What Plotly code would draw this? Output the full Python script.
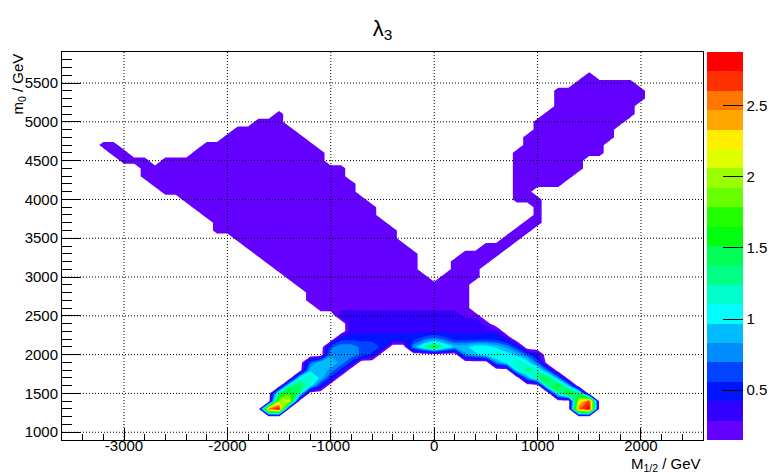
import plotly.graph_objects as go

# ---- data -------------------------------------------------------------
# histogram bin centres (GeV)
x_bins = list(range(-3500, 2501, 100))
y_bins = list(range(1000, 5801, 100))

# contour band for each occupied bin, per row (m0 value):
# (first M1/2 bin of the run, band codes); '1'..'9','A'..'K' = band 1..20
band_codes = "123456789ABCDEFGHIJK"
band_segments = {
    5600: [(1500, "1")],
    5500: [(1400, "111111")],
    5400: [(1200, "111111111")],
    5300: [(1200, "111111111")],
    5200: [(1200, "11111111")],
    5100: [(-1500, "1"), (1100, "111111111")],
    5000: [(-1700, "111"), (1000, "111111111")],
    4900: [(-1900, "111111"), (1000, "11111111")],
    4800: [(-2000, "11111111"), (900, "111111111")],
    4700: [(-3200, "11"), (-2200, "11111111111"), (900, "11111111")],
    4600: [(-3100, "11"), (-2300, "1111111111111"), (800, "111111111")],
    4500: [(-3000, "111"), (-2600, "1111111111111111"), (800, "1111111")],
    4400: [(-2800, "11111111111111111111"), (800, "1111111")],
    4300: [(-2800, "11111111111111111111"), (800, "111111")],
    4200: [(-2700, "11111111111111111111"), (800, "11111")],
    4100: [(-2600, "1111111111111111111"), (800, "11")],
    4000: [(-2400, "111111111111111111"), (800, "111")],
    3900: [(-2300, "111111111111111111"), (1000, "1")],
    3800: [(-2200, "11111111111111111"), (1000, "1")],
    3700: [(-2100, "11111111111111111"), (900, "11")],
    3600: [(-2100, "111111111111111111"), (800, "11")],
    3500: [(-1900, "1111111111111111"), (700, "11")],
    3400: [(-1800, "1111111111111111"), (500, "111")],
    3300: [(-1700, "1111111111111111"), (300, "1111")],
    3200: [(-1600, "111111111111111"), (200, "1111")],
    3100: [(-1500, "11111111111111"), (200, "111")],
    3000: [(-1400, "11111111111111"), (100, "1111")],
    2900: [(-1300, "11111111111111111")],
    2800: [(-1200, "1111111111111111")],
    2700: [(-1200, "1111111111111111")],
    2600: [(-1100, "111111111111111")],
    2500: [(-900, "22222222222211")],
    2400: [(-800, "22222222222221")],
    2300: [(-800, "222222222222222")],
    2200: [(-900, "33333333454333332")],
    2100: [(-1000, "455443"), (-200, "58B86677653")],
    2000: [(-1000, "55543"), (300, "56787642")],
    1900: [(-1200, "46653"), (600, "57874")],
    1800: [(-1200, "6653"), (800, "7984")],
    1700: [(-1300, "7863"), (900, "59A5")],
    1600: [(-1400, "8A73"), (1100, "9B6")],
    1500: [(-1500, "9C8"), (1200, "8C9")],
    1400: [(-1500, "EF"), (1400, "FJ")],
    1300: [(-1600, "IK"), (1400, "IK")],
}

z_min = 0.148
z_max = 2.88
n_bands = 20
band_colors = [
    "rgb(99,0,255)", "rgb(51,0,255)", "rgb(0,20,255)", "rgb(0,68,255)",
    "rgb(0,139,255)", "rgb(0,187,255)", "rgb(0,255,252)", "rgb(0,255,204)",
    "rgb(0,255,133)", "rgb(0,255,85)", "rgb(0,255,14)", "rgb(34,255,0)",
    "rgb(105,255,0)", "rgb(153,255,0)", "rgb(224,255,0)", "rgb(255,238,0)",
    "rgb(255,167,0)", "rgb(255,119,0)", "rgb(255,48,0)", "rgb(255,0,0)",
]

x_ticks = [-3000, -2000, -1000, 0, 1000, 2000]
x_tick_text = ["-3000", "-2000", "-1000", "0", "1000", "2000"]
y_ticks = [1000, 1500, 2000, 2500, 3000, 3500, 4000, 4500, 5000, 5500]
y_tick_text = [str(v) for v in y_ticks]
cb_ticks = [0.5, 1, 1.5, 2, 2.5]
cb_tick_text = ["0.5", "1", "1.5", "2", "2.5"]

# ---- build grid -------------------------------------------------------
step = (z_max - z_min) / n_bands
z = [[0.0 for _ in x_bins] for _ in y_bins]
for yv, segs in band_segments.items():
    r = y_bins.index(yv)
    for x0, codes in segs:
        c0 = x_bins.index(x0)
        for k, ch in enumerate(codes):
            band = band_codes.index(ch) + 1
            z[r][c0 + k] = z_min + (band - 0.3) * step

# stepped colour scale: white below the first level, one flat colour per band
colorscale = [[0.0, "white"], [0.001, band_colors[0]]]
for k, col in enumerate(band_colors):
    lo = k / n_bands
    hi = (k + 1) / n_bands
    if k > 0:
        colorscale.append([lo, col])
    colorscale.append([hi, col])

FONT = "Liberation Sans, Arial, Helvetica, sans-serif"
pw = 769 - 62 - 66
GRID_DASH = "1px,2px"

fig = go.Figure(go.Contour(
    x=x_bins, y=y_bins, z=z,
    autocontour=False,
    contours=dict(start=z_min, end=z_max, size=step, coloring="fill", showlines=False),
    line=dict(width=0, smoothing=0),
    colorscale=colorscale, zauto=False, zmin=z_min, zmax=z_max,
    hoverinfo="skip",
    colorbar=dict(
        x=(707 - 62) / pw, xanchor="left", xpad=0,
        y=0.5, yanchor="middle", ypad=0, len=1, lenmode="fraction",
        thickness=36, thicknessmode="pixels", outlinewidth=0,
        tickmode="array", tickvals=cb_ticks, ticktext=cb_tick_text,
        ticks="inside", ticklen=20, tickwidth=1, tickcolor="black",
        tickfont=dict(family=FONT, size=15, color="black"),
    ),
))

shapes = []
for xv in x_ticks:
    shapes.append(dict(type="line", xref="x", yref="paper", x0=xv, x1=xv, y0=0, y1=1,
                       line=dict(color="black", width=1, dash=GRID_DASH), layer="above"))
for yv in y_ticks:
    shapes.append(dict(type="line", xref="paper", yref="y", x0=0, x1=1, y0=yv, y1=yv,
                       line=dict(color="black", width=1, dash=GRID_DASH), layer="above"))

fig.update_layout(
    width=769, height=473,
    margin=dict(l=62, r=66, t=52, b=33, autoexpand=False),
    paper_bgcolor="white", plot_bgcolor="white",
    font=dict(family=FONT, size=15, color="black"),
    title=dict(text="λ<sub>3</sub>", x=0.5, xref="paper", xanchor="center",
               y=1 - 28 / 473, yref="container", yanchor="middle",
               font=dict(family=FONT, size=22, color="black")),
    shapes=shapes,
    annotations=[
        dict(text="M<sub>1/2</sub> / GeV", xref="paper", yref="paper", x=1.0, y=-0.062,
             xanchor="right", yanchor="middle", showarrow=False,
             font=dict(family=FONT, size=15, color="black")),
        dict(text="m<sub>0</sub> / GeV", xref="paper", yref="paper", x=(18 - 62) / pw, y=1.0,
             xanchor="center", yanchor="top", textangle=-90, showarrow=False,
             font=dict(family=FONT, size=15, color="black")),
    ],
)
fig.update_xaxes(
    range=[-3600, 2600], tickmode="array", tickvals=x_ticks, ticktext=x_tick_text,
    ticks="inside", ticklen=12, tickwidth=1, tickcolor="black", ticklabelstandoff=-8,
    showline=True, linecolor="black", linewidth=1, mirror=True,
    showgrid=False, zeroline=False, layer="above traces",
    minor=dict(tickmode="linear", tick0=0, dtick=200, ticks="inside", ticklen=6,
               tickcolor="black", showgrid=False),
)
fig.update_yaxes(
    range=[900, 5900], tickmode="array", tickvals=y_ticks, ticktext=y_tick_text,
    ticks="inside", ticklen=19, tickwidth=1, tickcolor="black",
    showline=True, linecolor="black", linewidth=1, mirror=True,
    showgrid=False, zeroline=False, layer="above traces",
    minor=dict(tickmode="linear", tick0=0, dtick=100, ticks="inside", ticklen=10,
               tickcolor="black", showgrid=False),
)

fig.write_html("out.html")
